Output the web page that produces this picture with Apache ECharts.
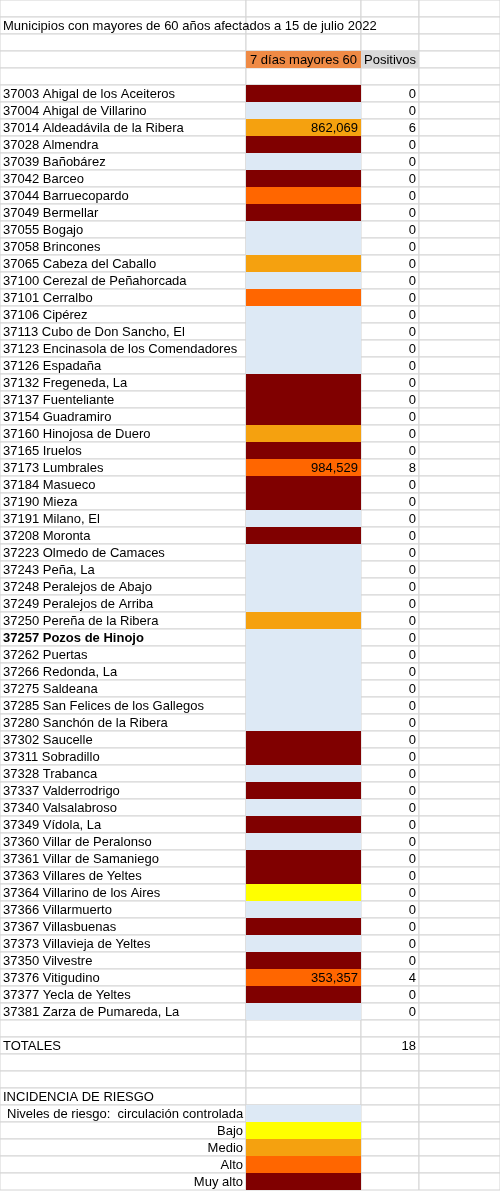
<!DOCTYPE html>
<html><head><meta charset="utf-8">
<script src="https://cdn.jsdelivr.net/npm/echarts@6/dist/echarts.min.js"></script>
<style>html,body{margin:0;padding:0;background:#fff}#c{width:500px;height:1191px}</style>
</head><body><div id="c"></div>
<script>
const title = 'Municipios con mayores de 60 años afectados a 15 de julio 2022';
const headerIncidence = '7 días mayores 60';
const headerPositives = 'Positivos';
const codes = [37003,37004,37014,37028,37039,37042,37044,37049,37055,37058,37065,37100,37101,37106,37113,37123,37126,37132,37137,37154,37160,37165,37173,37184,37190,37191,37208,37223,37243,37248,37249,37250,37257,37262,37266,37275,37285,37280,37302,37311,37328,37337,37340,37349,37360,37361,37363,37364,37366,37367,37373,37350,37376,37377,37381];
const names = ['Ahigal de los Aceiteros','Ahigal de Villarino','Aldeadávila de la Ribera','Almendra','Bañobárez','Barceo','Barruecopardo','Bermellar','Bogajo','Brincones','Cabeza del Caballo','Cerezal de Peñahorcada','Cerralbo','Cipérez','Cubo de Don Sancho, El','Encinasola de los Comendadores','Espadaña','Fregeneda, La','Fuenteliante','Guadramiro','Hinojosa de Duero','Iruelos','Lumbrales','Masueco','Mieza','Milano, El','Moronta','Olmedo de Camaces','Peña, La','Peralejos de Abajo','Peralejos de Arriba','Pereña de la Ribera','Pozos de Hinojo','Puertas','Redonda, La','Saldeana','San Felices de los Gallegos','Sanchón de la Ribera','Saucelle','Sobradillo','Trabanca','Valderrodrigo','Valsalabroso','Vídola, La','Villar de Peralonso','Villar de Samaniego','Villares de Yeltes','Villarino de los Aires','Villarmuerto','Villasbuenas','Villavieja de Yeltes','Vilvestre','Vitigudino','Yecla de Yeltes','Zarza de Pumareda, La'];
// risk level: 0 controlada, 1 bajo, 2 medio, 3 alto, 4 muy alto
const levels = [4,0,2,4,0,4,3,4,0,0,2,0,3,0,0,0,0,4,4,4,2,4,3,4,4,0,4,0,0,0,0,2,0,0,0,0,0,0,4,4,0,4,0,4,0,4,4,1,0,4,0,4,3,4,0];
const incidence = {'37014':'862,069','37173':'984,529','37376':'353,357'};
const positives = [0,0,6,0,0,0,0,0,0,0,0,0,0,0,0,0,0,0,0,0,0,0,8,0,0,0,0,0,0,0,0,0,0,0,0,0,0,0,0,0,0,0,0,0,0,0,0,0,0,0,0,0,4,0,0];
const total = 18;
const legendLabels = ['Niveles de riesgo:  circulación controlada','Bajo','Medio','Alto','Muy alto'];
const levelColors = ['#dde9f5','#ffff00','#f5a10f','#ff6600','#800000'];

const NROWS = 70, FIRST = 5;
const colEdges = [0,246,361,419,500];
const cells = []; // [col,row,fill,text,align,bold]
function cell(col,row,fill,text,align,bold){cells.push([col,row,fill||'',text==null?'':String(text),align||'left',bold?1:0]);}
cell(0,1,'',title,'left');
cell(1,3,'#ef8a45',headerIncidence,'center');
cell(2,3,'#d9d9d9',headerPositives,'center');
codes.forEach((code,i)=>{
  const r=FIRST+i;
  cell(0,r,'',code+' '+names[i],'left',names[i]==='Pozos de Hinojo');
  cell(1,r,levelColors[levels[i]],incidence[code]||'','right');
  cell(2,r,'',positives[i],'right');
});
cell(0,61,'','TOTALES','left');
cell(2,61,'',total,'right');
cell(0,64,'','INCIDENCIA DE RIESGO','left');
legendLabels.forEach((l,i)=>{
  cell(0,65+i,'',l,i===0?'indent':'right');
  cell(1,65+i,levelColors[i],'','right');
});

const chart = echarts.init(document.getElementById('c'),null,{renderer:'canvas'});
chart.setOption({
  animation:false,
  grid:{left:0,right:0,top:0,bottom:1},
  xAxis:{type:'value',min:0,max:500,show:false},
  yAxis:{type:'category',inverse:true,data:Array.from({length:NROWS},(_,i)=>i),show:false},
  series:[{
    type:'custom',z:-1,
    data:Array.from({length:NROWS*4},(_,i)=>[i%4,Math.floor(i/4)]),
    renderItem:function(params,api){
      const col=api.value(0), row=api.value(1);
      const p0=api.coord([colEdges[col],row]);
      const p1=api.coord([colEdges[col+1],row]);
      const h=api.size([0,1])[1];
      return {type:'rect',shape:{x:p0[0],y:p0[1]-h/2,width:p1[0]-p0[0],height:h},style:{fill:'#fff',stroke:'#d4d4d4',lineWidth:1}};
    }
  },{
    type:'custom',
    data:cells,
    renderItem:function(params,api){
      const col=api.value(0), row=api.value(1);
      const d=cells[params.dataIndex];
      const fill=d[2], text=d[3], align=d[4], bold=d[5];
      const p0=api.coord([colEdges[col],row]);
      const p1=api.coord([colEdges[col+1],row]);
      const h=api.size([0,1])[1];
      const x=p0[0], w=p1[0]-p0[0], y=p0[1]-h/2;
      const children=[];
      if(fill){
        children.push({type:'rect',shape:{x:x,y:y,width:w,height:h},style:{fill:fill}});
      }
      if(text){
        let tx=x+3, ta='left';
        if(align==='right'){tx=x+w-3;ta='right';}
        else if(align==='center'){tx=x+w/2;ta='center';}
        else if(align==='indent'){tx=x+7;}
        children.push({type:'text',z2:10,style:{x:tx,y:p0[1]+1,text:text,align:ta,verticalAlign:'middle',
          font:(bold?'bold ':'')+'13px "Liberation Sans", Arial, sans-serif',fill:'#000'}});
      }
      return {type:'group',children:children};
    }
  }]
});
</script></body></html>
